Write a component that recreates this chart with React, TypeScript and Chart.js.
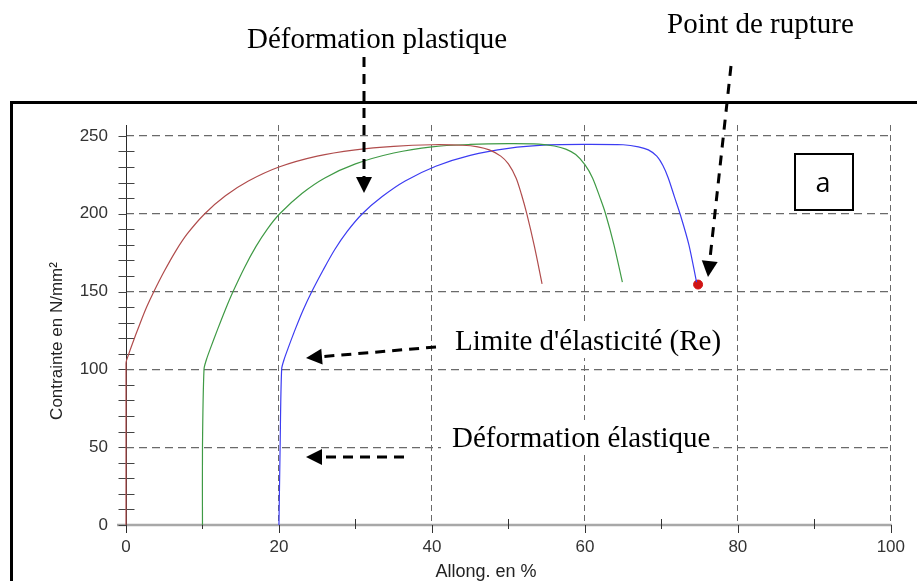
import React, { useEffect, useRef } from "react";
import { Chart, registerables } from "chart.js";

Chart.register(...registerables);

// ---- data ----
const xTickValues = [0, 20, 40, 60, 80, 100];
const yTickValues = [0, 50, 100, 150, 200, 250];

const redX = [0, 0, 0, 0.3, 0.8, 1.8, 2.7, 3.65, 5, 6.5, 8, 10.3, 13, 16, 20, 25, 30, 35, 40, 44, 46, 47.5, 49, 50, 51, 51.7, 52.4, 53.4, 54.4];
const redY = [0, 50, 104, 109, 116, 129, 140, 150, 163, 176, 187, 200, 211.5, 221, 230, 237, 241, 243.3, 244.3, 244, 243, 241, 237, 232, 223, 212.5, 200, 179, 155];

const greenX = [10, 10, 10.2, 10.5, 11, 12, 13, 14, 15.5, 17, 18.5, 20.1, 23, 26, 30, 35, 40, 45, 50, 54, 56, 57.5, 58.8, 60, 61, 62, 62.7, 63.8, 64.9];
const greenY = [0, 50, 100, 106, 113, 126, 138.5, 150, 165.5, 179, 190.3, 200, 213, 223, 232, 239, 243, 244.5, 245, 244.7, 243.5, 241.5, 238, 231.5, 223, 210, 200, 180, 156];

const blueX = [20, 20.15, 20.35, 20.65, 21.15, 22.15, 23.15, 24.3, 25.8, 27.3, 28.9, 30.9, 33.5, 36.5, 40.5, 45, 50, 55, 60, 65, 67, 68.3, 69.4, 70.2, 70.9, 71.7, 72.5, 73.6, 74.6];
const blueY = [0, 50, 100, 106, 113, 126, 138, 150, 164, 177, 188.5, 200, 211, 221, 230.5, 237.5, 242, 244.2, 244.6, 244.3, 243, 241, 237, 231, 223, 211, 199, 180, 156];

const ruptureX = [74.8];
const ruptureY = [154.5];

const toPoints = (xs: number[], ys: number[]) => xs.map((x, i) => ({ x, y: ys[i] }));

// ---- drawing helpers ----
function dashedArrow(ctx: CanvasRenderingContext2D, x1: number, y1: number, x2: number, y2: number, dash: number[]) {
  const headLen = 16;
  const headW = 8;
  const dx = x2 - x1;
  const dy = y2 - y1;
  const len = Math.hypot(dx, dy);
  const ux = dx / len;
  const uy = dy / len;
  const bx = x2 - ux * headLen;
  const by = y2 - uy * headLen;
  ctx.save();
  ctx.strokeStyle = "#000";
  ctx.fillStyle = "#000";
  ctx.lineWidth = 3;
  ctx.setLineDash(dash);
  ctx.beginPath();
  ctx.moveTo(x1, y1);
  ctx.lineTo(bx + ux * 2, by + uy * 2);
  ctx.stroke();
  ctx.setLineDash([]);
  ctx.beginPath();
  ctx.moveTo(x2, y2);
  ctx.lineTo(bx - uy * headW, by + ux * headW);
  ctx.lineTo(bx + uy * headW, by - ux * headW);
  ctx.closePath();
  ctx.fill();
  ctx.restore();
}

const axisFont = '"Liberation Sans", Arial, sans-serif';

const decor = {
  id: "decor",
  beforeDatasetsDraw(chart: any) {
    const { ctx, chartArea: a, scales } = chart;
    const x = scales.x;
    const y = scales.y;
    const x0 = Math.round(x.getPixelForValue(0)) + 0.5;
    const y0 = Math.round(y.getPixelForValue(0));
    ctx.save();
    // x axis line
    ctx.strokeStyle = "#a8a8a8";
    ctx.lineWidth = 2.5;
    ctx.beginPath();
    ctx.moveTo(a.left - 9, y0);
    ctx.lineTo(a.right + 1, y0);
    ctx.stroke();
    // y axis line
    ctx.strokeStyle = "#2a2a2a";
    ctx.lineWidth = 1;
    ctx.beginPath();
    ctx.moveTo(x0, a.top);
    ctx.lineTo(x0, y0 + 8);
    ctx.stroke();
    // y ticks (minor every 10, crossing the axis)
    ctx.strokeStyle = "#444";
    ctx.beginPath();
    for (let v = 0; v <= 250; v += 10) {
      const py = Math.round(y.getPixelForValue(v)) + 0.5;
      const major = v % 50 === 0;
      ctx.moveTo(x0 - 8, py);
      ctx.lineTo(major ? x0 : x0 + 8, py);
    }
    ctx.stroke();
    // x ticks
    ctx.strokeStyle = "#333";
    ctx.beginPath();
    for (let v = 10; v <= 100; v += 10) {
      const px = Math.round(x.getPixelForValue(v)) + 0.5;
      if (v % 20 === 0) {
        ctx.moveTo(px, y0);
        ctx.lineTo(px, y0 + 8);
      } else {
        ctx.moveTo(px, y0 - 6);
        ctx.lineTo(px, y0 + 4);
      }
    }
    ctx.stroke();
    ctx.restore();
  },
  afterDraw(chart: any) {
    const { ctx } = chart;
    ctx.save();
    // axis titles
    ctx.fillStyle = "#222";
    ctx.textAlign = "center";
    ctx.textBaseline = "middle";
    ctx.font = `18px ${axisFont}`;
    ctx.fillText("Allong. en %", 486, 572);
    ctx.save();
    ctx.translate(57, 341);
    ctx.rotate(-Math.PI / 2);
    ctx.font = `17px ${axisFont}`;
    ctx.fillText("Contrainte en N/mm²", 0, 0);
    ctx.restore();

    // outer frame
    ctx.fillStyle = "#000";
    ctx.fillRect(10, 101, 917 - 10, 3);
    ctx.fillRect(10, 101, 3, 581 - 101);

    // white boxes behind the in-plot texts
    ctx.fillStyle = "#fff";
    ctx.fillRect(449, 322, 277, 36);
    ctx.fillRect(441, 420, 272, 35);

    // texts
    ctx.fillStyle = "#000";
    ctx.font = '29px "Liberation Serif", "Times New Roman", serif';
    ctx.textAlign = "left";
    ctx.textBaseline = "alphabetic";
    ctx.fillText("Déformation plastique", 247, 48);
    ctx.fillText("Point de rupture", 667, 33);
    ctx.fillText("Limite d'élasticité (Re)", 455, 350);
    ctx.fillText("Déformation élastique", 452, 447);

    // arrows
    dashedArrow(ctx, 364, 57, 364, 193, [10, 7]);
    dashedArrow(ctx, 731, 66, 708, 277, [10, 8]);
    dashedArrow(ctx, 436, 347, 306, 358, [10, 7]);
    dashedArrow(ctx, 404, 457, 306, 457, [10, 7]);

    // "a" box
    ctx.fillStyle = "#fff";
    ctx.fillRect(795, 154, 58, 56);
    ctx.strokeStyle = "#000";
    ctx.lineWidth = 2;
    ctx.strokeRect(795, 154, 58, 56);
    ctx.fillStyle = "#000";
    ctx.font = '27px "Open Sans", "Liberation Sans", sans-serif';
    ctx.textAlign = "center";
    ctx.textBaseline = "alphabetic";
    ctx.fillText("a", 823, 192);
    ctx.restore();
  },
};

export default function App() {
  const canvasRef = useRef<HTMLCanvasElement | null>(null);

  useEffect(() => {
    if (!canvasRef.current) return;
    const gridColor = "#6a6a6a";
    const curve = (label: string, xs: number[], ys: number[], color: string) => ({
      label,
      data: toPoints(xs, ys),
      showLine: true,
      borderColor: color,
      borderWidth: 1.2,
      pointRadius: 0,
      tension: 0.3,
      clip: 4,
    });
    const chart = new Chart(canvasRef.current, {
      type: "scatter",
      data: {
        datasets: [
          curve("rouge", redX, redY, "#b04c4c"),
          curve("vert", greenX, greenY, "#3f9a45"),
          curve("bleu", blueX, blueY, "#3c3cf2"),
          {
            label: "rupture",
            data: toPoints(ruptureX, ruptureY),
            showLine: false,
            backgroundColor: "#d01414",
            borderColor: "#d01414",
            pointRadius: 4.5,
            clip: 8,
          },
        ],
      },
      options: {
        responsive: false,
        animation: false,
        devicePixelRatio: 1,
        layout: { padding: { top: 125, right: 24, left: 0, bottom: 0 } },
        plugins: {
          legend: { display: false },
          tooltip: { enabled: false },
        },
        scales: {
          x: {
            type: "linear",
            min: 0,
            max: 100,
            afterBuildTicks: (scale: any) => {
              scale.ticks = xTickValues.map((v) => ({ value: v }));
            },
            afterFit: (scale: any) => {
              scale.height = 56;
            },
            ticks: {
              color: "#333",
              font: { family: axisFont, size: 17 },
              padding: 12,
              maxRotation: 0,
            },
            grid: {
              color: (c: any) => (c.tick && c.tick.value === 0 ? "rgba(0,0,0,0)" : gridColor),
              lineWidth: 1,
              drawTicks: false,
            },
            border: { display: false, dash: [6, 4] },
          },
          y: {
            type: "linear",
            min: 0,
            max: 257,
            afterBuildTicks: (scale: any) => {
              scale.ticks = yTickValues.map((v) => ({ value: v }));
            },
            afterFit: (scale: any) => {
              scale.width = 126;
            },
            ticks: {
              color: "#333",
              font: { family: axisFont, size: 17 },
              padding: 18,
            },
            grid: {
              color: (c: any) => (c.tick && c.tick.value === 0 ? "rgba(0,0,0,0)" : gridColor),
              lineWidth: 1.2,
              drawTicks: false,
            },
            border: { display: false, dash: [8, 5] },
          },
        },
      },
      plugins: [decor],
    });
    return () => chart.destroy();
  }, []);

  return (
    <div style={{ position: "absolute", left: 0, top: 0, width: 917, height: 581, background: "#fff", overflow: "hidden" }}>
      <canvas ref={canvasRef} width={917} height={581} style={{ display: "block" }} />
    </div>
  );
}
